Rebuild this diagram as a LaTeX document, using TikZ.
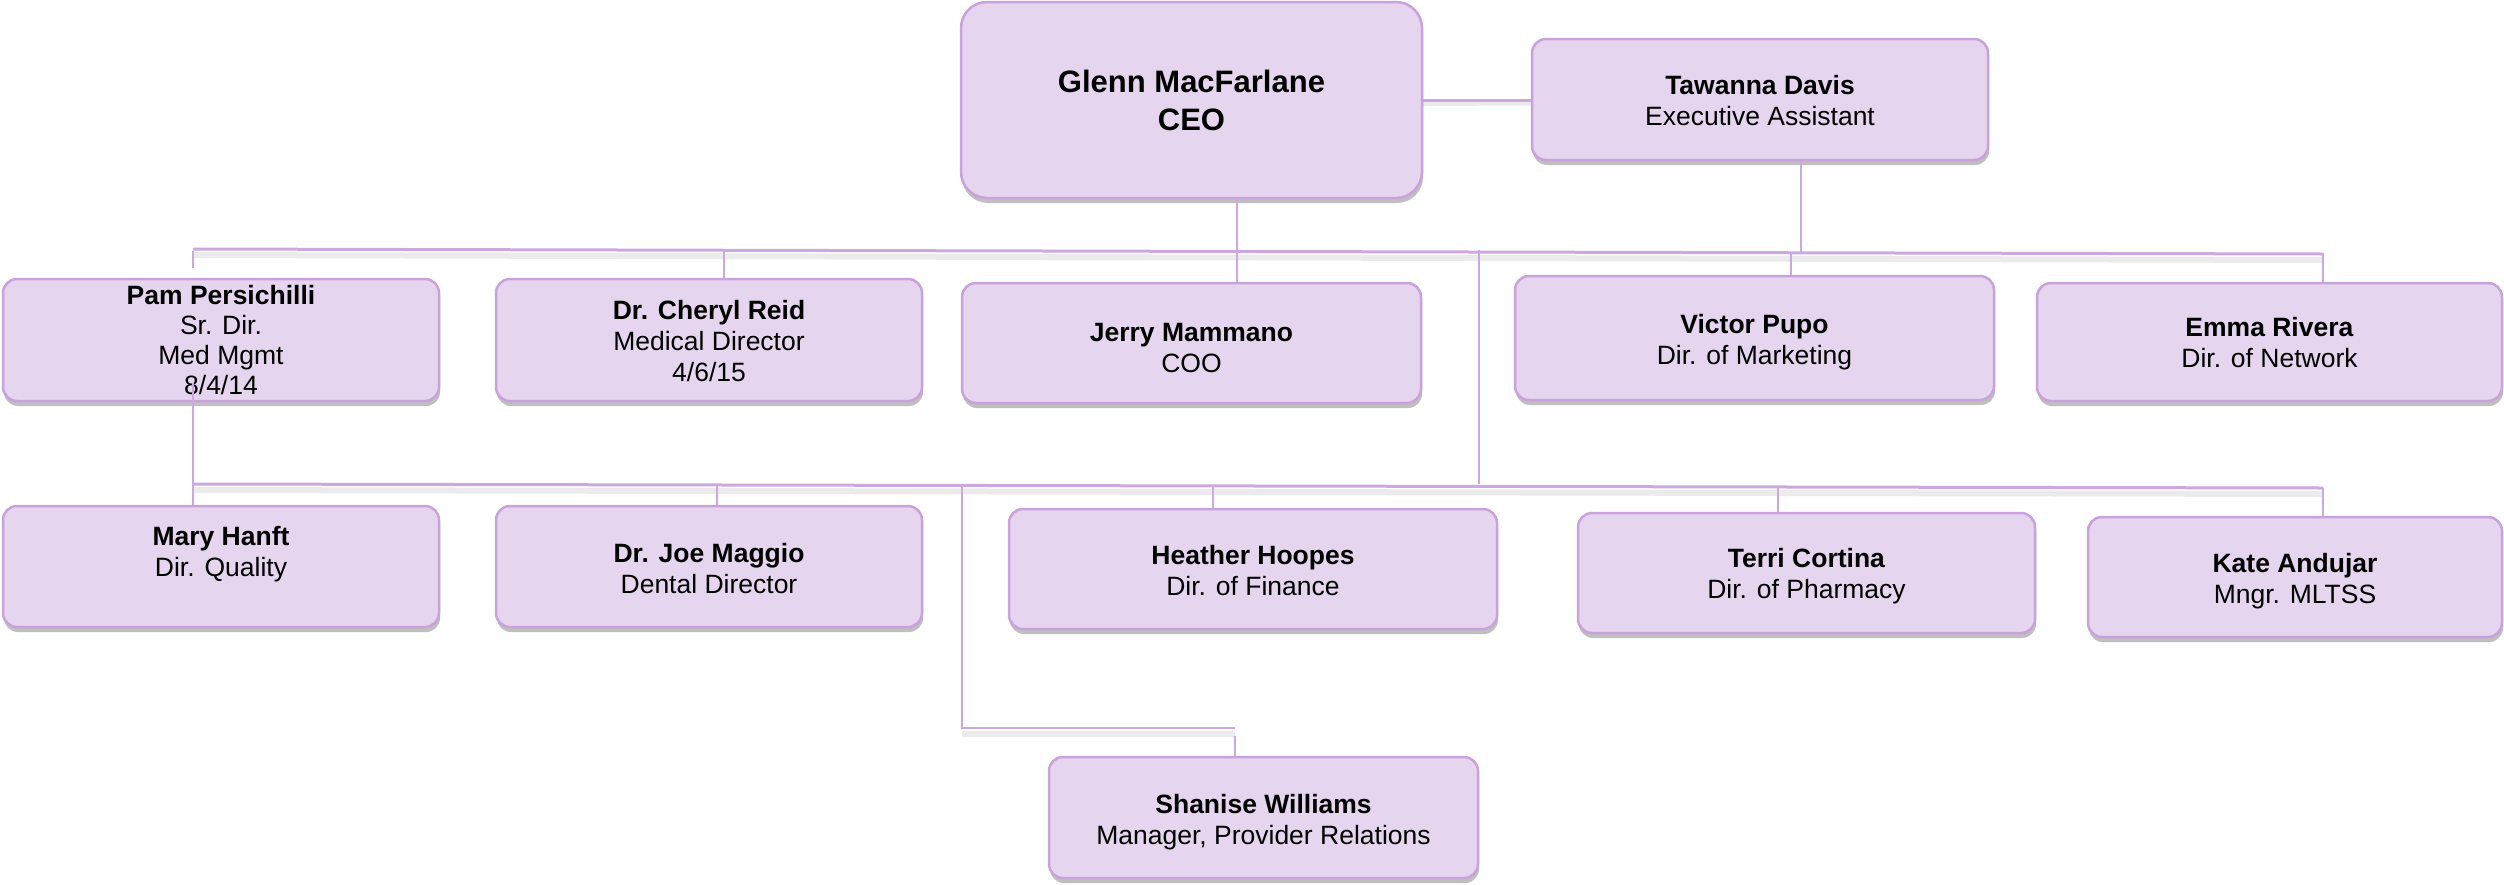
\documentclass[tikz,border=0pt]{standalone}
\usepackage{fontspec}
\setmainfont{Liberation Sans}
\usetikzlibrary{shadows}
\definecolor{boxfill}{HTML}{E5D5EE}
\definecolor{boxline}{HTML}{C9A2DB}
\definecolor{conn}{HTML}{CDA8DF}
\begin{document}
\begin{tikzpicture}[x=1pt,y=-1pt,
  orgbox/.style={draw=boxline, line width=2.5pt, fill=boxfill, rounded corners=14pt,
    inner sep=0pt,
    drop shadow={shadow xshift=1pt, shadow yshift=-5pt, opacity=0.25, fill=black}},
  txt/.style={inner sep=0pt, align=center, font=\fontsize{26.5}{31}\selectfont},
  link/.style={draw=conn, line width=2.2pt},
  bus/.style={draw=conn, line width=3pt},
  busshadow/.style={draw=black, opacity=0.08, line width=6pt}]
\useasboundingbox (0,0) rectangle (2504,884);

% boxes
\node[orgbox, rounded corners=26pt, minimum width=461pt, minimum height=196pt] (ceo) at (1191.5,100) {};
\node[orgbox, minimum width=456pt, minimum height=121pt] (taw) at (1760,99.5) {};
\node[orgbox, minimum width=436pt, minimum height=122pt] (pam) at (221,340) {};
\node[orgbox, minimum width=426pt, minimum height=122pt] (cheryl) at (709,340) {};
\node[orgbox, minimum width=459pt, minimum height=120pt] (jerry) at (1191.5,343) {};
\node[orgbox, minimum width=479pt, minimum height=124pt] (victor) at (1754.5,338) {};
\node[orgbox, minimum width=465pt, minimum height=118pt] (emma) at (2269.5,342) {};
\node[orgbox, minimum width=436pt, minimum height=121pt] (mary) at (221,566.5) {};
\node[orgbox, minimum width=426pt, minimum height=121pt] (joe) at (709,566.5) {};
\node[orgbox, minimum width=488pt, minimum height=120pt] (heather) at (1253,569) {};
\node[orgbox, minimum width=457pt, minimum height=120pt] (terri) at (1806.5,573) {};
\node[orgbox, minimum width=414pt, minimum height=120pt] (kate) at (2295,577) {};
\node[orgbox, minimum width=429pt, minimum height=121pt] (shanise) at (1263.5,817.5) {};

% texts
\node[txt, font=\fontsize{31}{38}\selectfont\bfseries] (ceoT) at (ceo) {Glenn MacFarlane\\CEO};
\node[txt, yshift=-1.5pt] (tawT) at (taw) {\textbf{Tawanna Davis}\\Executive Assistant};
\node[txt, font=\fontsize{26.5}{30}\selectfont] (pamT) at (pam) {\textbf{Pam Persichilli}\\Sr. Dir.\\Med Mgmt\\8/4/14};
\node[txt, yshift=-1.5pt] (cherylT) at (cheryl) {\textbf{Dr. Cheryl Reid}\\Medical Director\\4/6/15};
\node[txt, yshift=-5pt] (jerryT) at (jerry) {\textbf{Jerry Mammano}\\COO};
\node[txt, yshift=-4pt] (victorT) at (victor) {\textbf{Victor Pupo}\\Dir. of Marketing};
\node[txt, yshift=-1pt] (emmaT) at (emma) {\textbf{Emma Rivera}\\Dir. of Network};
\node[txt, yshift=-49pt] (maryT) at (mary.north) {\textbf{Mary Hanft}\\Dir. Quality};
\node[txt, yshift=-2pt] (joeT) at (joe) {\textbf{Dr. Joe Maggio}\\Dental Director};
\node[txt, yshift=-2pt] (heatherT) at (heather) {\textbf{Heather Hoopes}\\Dir. of Finance};
\node[txt, yshift=-3pt] (terriT) at (terri) {\textbf{Terri Cortina}\\Dir. of Pharmacy};
\node[txt, yshift=-4pt] (kateT) at (kate) {\textbf{Kate Andujar}\\Mngr. MLTSS};
\node[txt, yshift=-5pt] (shaniseT) at (shanise) {\textbf{Shanise Williams}\\Manager, Provider Relations};

% bus coordinates
\coordinate (b1L) at (193,249);
\coordinate (b1R) at (2323,254);
\coordinate (b2L) at (193,484);
\coordinate (b2R) at (2323,488);
\coordinate (tPam) at (193,251);
\coordinate (tPamEnd) at (193,268);
\coordinate (tCh) at (724,251);
\coordinate (tJ) at (1237,251);
\coordinate (tMid) at (1479,250);
\coordinate (tMidB) at (1479,484);
\coordinate (tTaw) at (1801,252);
\coordinate (tVic) at (1791,252);
\coordinate (tEm) at (2323,253);
\coordinate (pamIn) at (193,383);
\coordinate (tMary) at (193,485);
\coordinate (tJoe) at (717,485);
\coordinate (tShan) at (962,485);
\coordinate (tHea) at (1213,486);
\coordinate (tTer) at (1778,487);
\coordinate (tKate) at (2323,488);
\coordinate (sCorner) at (962,728);
\coordinate (sEnd) at (1235,728);
\coordinate (sTop) at (1235,736);

% shadows of the horizontal lines
\draw[busshadow] ([yshift=-6pt]b1L) -- ([yshift=-6pt]b1R);
\draw[busshadow] ([yshift=-6pt]b2L) -- ([yshift=-6pt]b2R);
\draw[busshadow] ([yshift=-6pt]sCorner) -- ([yshift=-6pt]sEnd);
\draw[busshadow] ([yshift=-3pt]ceo.east) -- ([yshift=-3pt]taw.west);

% connectors
\draw[bus] (ceo.east) -- (ceo.east -| taw.west);
\draw[bus] (b1L) -- (b1R);
\draw[bus] (b2L) -- (b2R);
\draw[link] (ceo.south -| tJ) -- (tJ |- jerry.north);
\draw[link] (taw.south -| tTaw) -- (tTaw);
\draw[link] (tVic) -- (tVic |- victor.north);
\draw[link] (tEm) -- (tEm |- emma.north);
\draw[link] (tPam) -- (tPamEnd);
\draw[link] (tCh) -- (tCh |- cheryl.north);
\draw[link] (tMid) -- (tMidB);
\draw[link] (pamIn) -- (tMary |- mary.north);
\draw[link] (tJoe) -- (tJoe |- joe.north);
\draw[link] (tHea) -- (tHea |- heather.north);
\draw[link] (tTer) -- (tTer |- terri.north);
\draw[link] (tKate) -- (tKate |- kate.north);
\draw[link] (tShan) -- (sCorner) -- (sEnd);
\draw[link] (sTop) -- (sTop |- shanise.north);
\end{tikzpicture}
\end{document}
